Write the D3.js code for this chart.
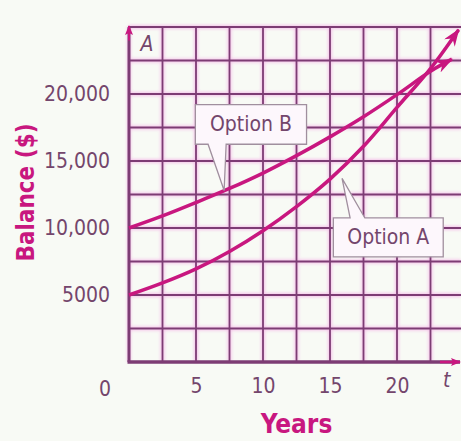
<!DOCTYPE html>
<html lang="en">
<head>
<meta charset="UTF-8">
<script src="https://cdn.jsdelivr.net/npm/d3@7"></script>
<title>Balance</title>
<style>
    body { margin: 0; background: #f8faf5; }
    text { font-family: "DejaVu Sans Condensed", "DejaVu Sans", sans-serif; font-stretch: condensed; }
</style>
</head>
<body>
<div id="viz"></div>
<script>
    // values
    const yearsA = [0, 2.5, 5, 7.5, 10, 12.5, 15, 17.5, 20, 22.5, 24.6]
    const optionA = [5000, 5900, 6950, 8250, 9800, 11600, 13650, 16100, 19000, 21900, 24800]
    const yearsB = [0, 2.5, 5, 7.5, 10, 12.5, 15, 17.5, 20, 22.5, 24.1]
    const optionB = [10000, 10900, 11900, 12950, 14100, 15400, 16800, 18300, 19950, 21700, 22600]
    const yTicks = [5000, 10000, 15000, 20000]
    const yTickLabels = ["5000", "10,000", "15,000", "20,000"]
    const xTicks = [5, 10, 15, 20]

    const width = 461
    const height = 441

    const svg = d3.select("#viz")
        .append("svg")
        .attr("width", width)
        .attr("height", height)

    const xScale = d3.scaleLinear().domain([0, 25]).range([129, 464])
    const yScale = d3.scaleLinear().domain([0, 25000]).range([362, 27])

    const gridDark = "#7d3c74"
    const pink = "#c8177f"
    const labelCol = "#74466c"

    const defs = svg.append("defs")
    defs.append("filter").attr("id", "glow")
        .append("feGaussianBlur").attr("stdDeviation", 1.6)

    defs.append("marker")
        .attr("id", "curveArrow")
        .attr("viewBox", "0 0 16 12")
        .attr("refX", 15).attr("refY", 6)
        .attr("markerWidth", 18).attr("markerHeight", 13)
        .attr("markerUnits", "userSpaceOnUse")
        .attr("orient", "auto")
        .append("path")
        .attr("d", "M0,0 L16,6 L0,12 L5,6 Z")
        .attr("fill", pink)

    defs.append("marker")
        .attr("id", "axisArrow")
        .attr("viewBox", "0 0 10 8")
        .attr("refX", 9).attr("refY", 4)
        .attr("markerWidth", 10).attr("markerHeight", 8)
        .attr("markerUnits", "userSpaceOnUse")
        .attr("orient", "auto")
        .append("path")
        .attr("d", "M0,0 L10,4 L0,8 L2,4 Z")
        .attr("fill", pink)

    // grid
    const vLines = d3.range(0, 23, 2.5)
    const hLines = d3.range(2500, 25001, 2500)
    const glow = svg.append("g").attr("filter", "url(#glow)")
        .attr("stroke", "#f38ee0").attr("stroke-width", 4).attr("opacity", 0.5)
    const grid = svg.append("g").attr("stroke", gridDark).attr("stroke-width", 1.8)
    for (const g of [glow, grid]) {
        g.selectAll(".v").data(vLines).enter().append("line")
            .attr("x1", d => xScale(d)).attr("x2", d => xScale(d))
            .attr("y1", yScale(0)).attr("y2", yScale(25000))
        g.selectAll(".h").data(hLines).enter().append("line")
            .attr("x1", xScale(0)).attr("x2", width)
            .attr("y1", d => yScale(d)).attr("y2", d => yScale(d))
    }

    // axes lines
    svg.append("line")
        .attr("x1", xScale(0)).attr("x2", xScale(0))
        .attr("y1", yScale(0)).attr("y2", yScale(25000))
        .attr("stroke", gridDark).attr("stroke-width", 3)
    svg.append("line")
        .attr("x1", xScale(0)).attr("x2", xScale(0))
        .attr("y1", yScale(24000)).attr("y2", yScale(25000) - 1)
        .attr("stroke", pink).attr("stroke-width", 2)
        .attr("marker-end", "url(#axisArrow)")
    svg.append("line")
        .attr("x1", xScale(0) - 1.5).attr("x2", width - 1)
        .attr("y1", yScale(0)).attr("y2", yScale(0))
        .attr("stroke", gridDark).attr("stroke-width", 3.5)
    svg.append("line")
        .attr("x1", xScale(23.2)).attr("x2", width - 1)
        .attr("y1", yScale(0)).attr("y2", yScale(0))
        .attr("stroke", pink).attr("stroke-width", 2.5)
        .attr("marker-end", "url(#axisArrow)")

    // tick labels
    const yAxis = svg.append("g")
        .attr("transform", `translate(${xScale(0)},0)`)
        .call(d3.axisLeft(yScale).tickValues(yTicks)
            .tickFormat((d, i) => yTickLabels[i]).tickSize(0).tickPadding(19))
    const xAxis = svg.append("g")
        .attr("transform", `translate(0,${yScale(0)})`)
        .call(d3.axisBottom(xScale).tickValues(xTicks).tickSize(0).tickPadding(16))
    for (const ax of [yAxis, xAxis]) {
        ax.select(".domain").remove()
        ax.selectAll("text").attr("fill", labelCol).attr("font-size", 21)
            .attr("font-family", null)
    }
    svg.append("text")
        .attr("x", xScale(0) - 24).attr("y", yScale(0) + 34)
        .attr("text-anchor", "middle").attr("fill", labelCol).attr("font-size", 21)
        .text("0")

    svg.append("text")
        .attr("x", xScale(0) + 18).attr("y", yScale(25000) + 24)
        .attr("text-anchor", "middle").attr("fill", labelCol).attr("font-size", 21)
        .attr("font-style", "italic").text("A")
    svg.append("text")
        .attr("x", xScale(23.7)).attr("y", yScale(0) + 25)
        .attr("text-anchor", "middle").attr("fill", labelCol).attr("font-size", 21)
        .attr("font-style", "italic").text("t")

    // axis titles
    svg.append("text")
        .attr("transform", `translate(34,${yScale(12500) - 2}) rotate(-90)`)
        .attr("text-anchor", "middle").attr("fill", pink)
        .attr("font-size", 24).attr("font-weight", "bold")
        .text("Balance ($)")
    svg.append("text")
        .attr("x", xScale(12.5)).attr("y", 433)
        .attr("text-anchor", "middle").attr("fill", pink)
        .attr("font-size", 26).attr("font-weight", "bold")
        .text("Years")

    // curves
    const lineGen = d3.line()
        .x(d => xScale(d[0]))
        .y(d => yScale(d[1]))
        .curve(d3.curveCatmullRom)
    const series = [d3.zip(yearsA, optionA), d3.zip(yearsB, optionB)]
    svg.selectAll(".curve")
        .data(series)
        .enter()
        .append("path")
        .attr("d", d => lineGen(d))
        .attr("fill", "none")
        .attr("stroke", pink)
        .attr("stroke-width", 3.5)
        .attr("marker-end", "url(#curveArrow)")

    // callouts, in data units
    const callouts = [
        {label: "Option B", t0: 4.95, t1: 13.25, v0: 16250, v1: 19200, tailL: 5.9, tailR: 7.25, tipT: 7.1, tipV: 12800},
        {label: "Option A", t0: 15.25, t1: 23.45, v0: 7850, v1: 10750, tailL: 16.5, tailR: 17.6, tipT: 15.9, tipV: 13700}
    ]
    const co = svg.selectAll(".callout")
        .data(callouts)
        .enter()
        .append("g")
    co.append("path")
        .attr("d", d => {
            const l = xScale(d.t0), r = xScale(d.t1)
            const top = yScale(d.v1), bot = yScale(d.v0)
            const tl = xScale(d.tailL), tr = xScale(d.tailR)
            const tx = xScale(d.tipT), ty = yScale(d.tipV)
            if (ty > bot) {
                return `M${l},${top}H${r}V${bot}H${tr}L${tx},${ty}L${tl},${bot}H${l}Z`
            }
            return `M${l},${top}H${tl}L${tx},${ty}L${tr},${top}H${r}V${bot}H${l}Z`
        })
        .attr("fill", "#fdf7fc")
        .attr("stroke", "#a08f9e")
        .attr("stroke-width", 1.3)
    co.append("text")
        .attr("x", d => (xScale(d.t0) + xScale(d.t1)) / 2)
        .attr("y", d => (yScale(d.v0) + yScale(d.v1)) / 2 + 7)
        .attr("text-anchor", "middle")
        .attr("fill", labelCol)
        .attr("font-size", 21)
        .text(d => d.label)
</script>
</body>
</html>
